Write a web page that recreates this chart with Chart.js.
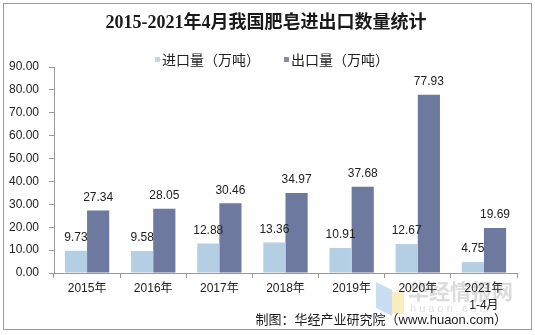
<!DOCTYPE html>
<html>
<head>
<meta charset="utf-8">
<script src="https://cdn.jsdelivr.net/npm/chart.js@4"></script>
<style>
  html, body { margin: 0; padding: 0; background: #fff; }
  canvas { display: block; }
</style>
</head>
<body>
<canvas id="c" width="535" height="335"></canvas>
<script>
const titleText = '2015-2021年4月我国肥皂进出口数量统计';
const categories = ['2015年', '2016年', '2017年', '2018年', '2019年', '2020年', ['2021年', '1-4月']];
const seriesNames = ['进口量（万吨）', '出口量（万吨）'];
const importVals = [9.73, 9.58, 12.88, 13.36, 10.91, 12.67, 4.75];
const exportVals = [27.34, 28.05, 30.46, 34.97, 37.68, 77.93, 19.69];
const sourceText = '制图：华经产业研究院（www.huaon.com）';

const CJK = '"Noto Sans CJK SC"';
const SANS = '"Liberation Sans", Arial, ' + CJK + ', sans-serif';
const legendMarkerColors = ['#c9d6e0', '#868ca0'];

const decor = {
  id: 'decor',
  beforeDraw(chart) {
    const ctx = chart.ctx;
    ctx.save();
    ctx.fillStyle = '#fff';
    ctx.fillRect(0, 0, chart.width, chart.height);
    ctx.strokeStyle = '#9a9a9a';
    ctx.lineWidth = 1;
    ctx.strokeRect(3.5, 3.5, 528, 326);
    // watermark
    ctx.globalAlpha = 0.55;
    ctx.fillStyle = '#9cc3ea';
    ctx.beginPath();
    ctx.moveTo(376, 282); ctx.lineTo(392, 290); ctx.lineTo(392, 316); ctx.lineTo(376, 308); ctx.closePath();
    ctx.fill();
    ctx.fillStyle = '#f3e08a';
    ctx.fillRect(392, 292, 12, 22);
    ctx.globalAlpha = 1;
    ctx.fillStyle = 'rgba(190,190,190,0.55)';
    ctx.font = 'bold 21px ' + CJK;
    ctx.textBaseline = 'middle';
    ctx.textAlign = 'left';
    ctx.fillText('华经情报网', 408, 291);
    ctx.font = '11px ' + SANS;
    ctx.fillStyle = 'rgba(200,200,200,0.6)';
    ctx.fillText('h u a o n . c o m', 410, 309);
    ctx.restore();
  },
  afterDraw(chart) {
    const ctx = chart.ctx;
    ctx.save();
    // title
    ctx.fillStyle = '#1a1a1a';
    ctx.font = 'bold 18px "Liberation Serif", ' + CJK + ', serif';
    ctx.textAlign = 'center';
    ctx.textBaseline = 'middle';
    ctx.fillText(titleText, 266, 23);
    // legend
    ctx.font = '14px ' + CJK;
    ctx.textAlign = 'left';
    let x = 155;
    chart.data.datasets.forEach((ds, i) => {
      ctx.fillStyle = legendMarkerColors[i];
      ctx.fillRect(x, 57, 5, 5);
      ctx.fillStyle = '#222';
      ctx.fillText(ds.label, x + 7, 60);
      x += 7 + ctx.measureText(ds.label).width + 24;
    });
    // source
    ctx.font = '13px ' + SANS;
    ctx.textAlign = 'right';
    ctx.fillStyle = '#1a1a1a';
    ctx.fillText(sourceText, 507, 320);
    ctx.restore();
  },
  afterDatasetsDraw(chart) {
    const ctx = chart.ctx;
    ctx.save();
    ctx.font = '12px ' + SANS;
    ctx.fillStyle = '#222';
    ctx.textAlign = 'center';
    ctx.textBaseline = 'middle';
    chart.data.datasets.forEach((ds, i) => {
      const meta = chart.getDatasetMeta(i);
      meta.data.forEach((el, j) => {
        ctx.fillText(ds.data[j].toFixed(2), el.x, el.y - 13);
      });
    });
    ctx.restore();
  }
};

new Chart(document.getElementById('c'), {
  type: 'bar',
  data: {
    labels: categories,
    datasets: [
      { label: seriesNames[0], data: importVals, backgroundColor: '#b4cfe3' },
      { label: seriesNames[1], data: exportVals, backgroundColor: '#6d799f' }
    ]
  },
  options: {
    responsive: false,
    animation: false,
    devicePixelRatio: 1,
    layout: { padding: { top: 67, right: 18, left: 0, bottom: 0 } },
    plugins: { legend: { display: false }, title: { display: false }, tooltip: { enabled: false } },
    datasets: { bar: { categoryPercentage: 0.67, barPercentage: 1.0 } },
    scales: {
      x: {
        afterFit(s) { s.height = 62; },
        grid: { drawOnChartArea: false, drawTicks: true, tickLength: 5, color: '#9a9a9a', offset: true },
        border: { color: '#9a9a9a' },
        ticks: { font: { size: 12, family: SANS, lineHeight: 1.35 }, color: '#222', padding: 3, maxRotation: 0, autoSkip: false }
      },
      y: {
        min: 0, max: 90,
        afterFit(s) { s.width = 54; },
        grid: { drawOnChartArea: false, drawTicks: true, tickLength: 5, color: '#9a9a9a' },
        border: { color: '#9a9a9a' },
        ticks: { stepSize: 10, font: { size: 12, family: SANS }, color: '#222', padding: 10,
                 callback: v => Number(v).toFixed(2) }
      }
    }
  },
  plugins: [decor]
});
</script>
</body>
</html>
